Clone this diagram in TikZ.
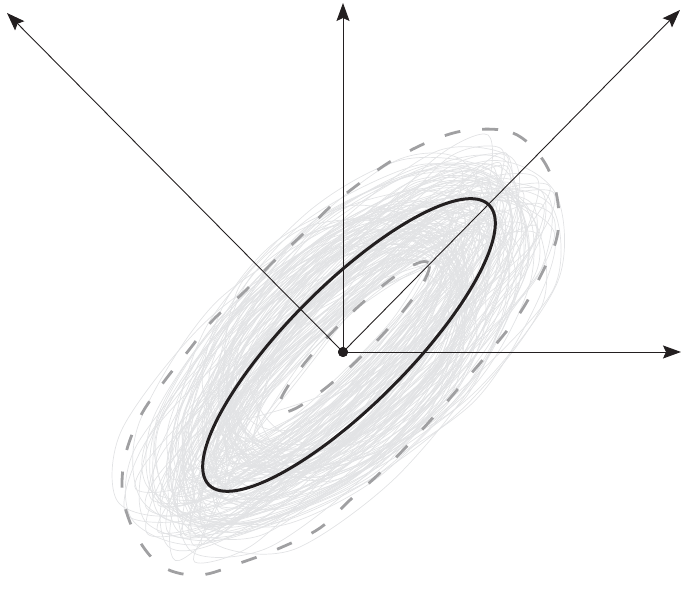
\documentclass[tikz,border=0pt]{standalone}
\usetikzlibrary{arrows.meta}
\definecolor{samplegray}{RGB}{226,227,229}
\definecolor{dashgray}{RGB}{160,160,162}
\definecolor{inkblack}{RGB}{35,31,32}
\begin{document}
\begin{tikzpicture}[x=1pt,y=1pt,
  sample/.style={draw=samplegray, line width=0.7pt},
  envelope/.style={draw=dashgray, line width=2.8pt, dash pattern=on 16pt off 22pt},
  meanell/.style={draw=inkblack, line width=3pt},
  axis/.style={draw=inkblack, line width=0.9pt, -{Stealth[length=18pt,width=13pt,inset=3pt]}},
  dot/.style={circle, fill=inkblack, inner sep=0pt, minimum size=10pt}]
\useasboundingbox (0,0) rectangle (681,591);
% sampled shapes
\pgfmathsetseed{11}
\foreach \i in {1,...,140}{
  \pgfmathsetmacro\cx{343+14*rand}
  \pgfmathsetmacro\cy{240+14*rand}
  \pgfmathsetmacro\ra{192+72*rand}
  \pgfmathsetmacro\rb{70+45*rand}
  \pgfmathsetmacro\rot{44+10*rand}
  \draw[sample] plot[smooth cycle, samples=10, domain=0:324, variable=\t]
    ({\cx + (\ra*cos(\t))*cos(\rot) - (\rb*sin(\t))*sin(\rot) + 8*rand},
     {\cy + (\ra*cos(\t))*sin(\rot) + (\rb*sin(\t))*cos(\rot) + 8*rand});
}
% outer envelope
\draw[envelope] plot[smooth cycle, tension=0.6] coordinates {
  (470,461) (513,458) (543,431) (557,394) (557,354) (540,314) (520,278) (497,248)
  (463,208) (437,178) (408,146) (380,118) (350,91) (320,63) (280,43) (240,28)
  (200,16) (163,24) (137,54) (123,94) (125,134) (140,174) (163,208) (189,241)
  (213,271) (243,298) (272,328) (302,356) (330,384) (360,408) (393,431) (433,451)};
% inner envelope
\draw[envelope] (354,254) ellipse[x radius=105, y radius=19, rotate=45];
% mean shape
\draw[meanell] (349,246) ellipse[x radius=198, y radius=60, rotate=45];
% axes
\node[dot] (O) at (343,239) {};
\coordinate (ul) at (7,578);
\coordinate (up) at (343,588);
\coordinate (ur) at (680,581);
\coordinate (rt) at (681,239);
\draw[axis] (O.center) -- (ul);
\draw[axis] (O.center) -- (up);
\draw[axis] (O.center) -- (ur);
\draw[axis] (O.center) -- (rt);
\node[dot] at (O) {};
\end{tikzpicture}
\end{document}
